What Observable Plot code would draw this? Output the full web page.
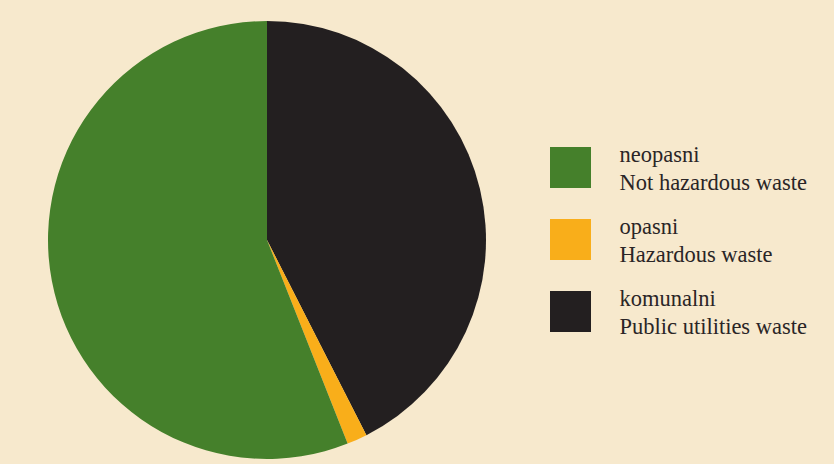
<!DOCTYPE html>
<html>
<head>
<meta charset="utf-8">
<script src="https://cdn.jsdelivr.net/npm/d3@7"></script>
<script src="https://cdn.jsdelivr.net/npm/@observablehq/plot@0.6"></script>
<style>
  html, body { margin: 0; padding: 0; background: #f7e9cd; }
  #chart svg { display: block; }
</style>
</head>
<body>
<div id="chart"></div>
<script>
// Data, clockwise from 12 o'clock
const keys = ["komunalni", "opasni", "neopasni"];
const values = [42.5, 1.5, 56.0];
const labelsLocal = ["komunalni", "opasni", "neopasni"];
const labelsEnglish = ["Public utilities waste", "Hazardous waste", "Not hazardous waste"];
// legend order (top to bottom)
const legendOrder = ["neopasni", "opasni", "komunalni"];
const colors = ["#231f20", "#f9ae1a", "#45802b"];

const data = keys.map((k, i) => ({key: k, value: values[i], local: labelsLocal[i], english: labelsEnglish[i]}));
const legendData = legendOrder.map((k, i) => ({...data.find(d => d.key === k), row: i}));

const W = 834, H = 464;
const cx = 267, cy = 240, R = 219;

function pieMark(index, scales) {
  const arcs = d3.pie().sort(null).value(d => d.value)(data);
  const arc = d3.arc().innerRadius(0).outerRadius(R);
  const g = d3.create("svg:g")
    .attr("transform", `translate(${scales.x(cx)},${scales.y(cy)})`);
  g.selectAll("path").data(arcs).join("path")
    .attr("d", arc)
    .attr("fill", d => scales.color(d.data.key));
  return g.node();
}

const legX = 550, legY0 = 147, legStep = 72, sq = 41, textX = 619;

const chart = Plot.plot({
  width: W,
  height: H,
  margin: 0,
  x: {domain: [0, W], range: [0, W], axis: null},
  y: {domain: [0, H], range: [0, H], axis: null},
  color: {domain: keys, range: colors},
  style: {background: "#f7e9cd", fontFamily: "'Liberation Serif', serif"},
  marks: [
    pieMark,
    Plot.rect(legendData, {
      x1: legX, x2: legX + sq,
      y1: d => legY0 + d.row * legStep,
      y2: d => legY0 + d.row * legStep + sq,
      fill: "key"
    }),
    Plot.text(legendData, {
      x: textX,
      y: d => legY0 + d.row * legStep + 7,
      text: "local",
      textAnchor: "start",
      fontSize: 22.5,
      fill: "#2a2526"
    }),
    Plot.text(legendData, {
      x: textX,
      y: d => legY0 + d.row * legStep + 35,
      text: "english",
      textAnchor: "start",
      fontSize: 22.5,
      fill: "#2a2526"
    })
  ]
});
document.getElementById("chart").appendChild(chart);
</script>
</body>
</html>
